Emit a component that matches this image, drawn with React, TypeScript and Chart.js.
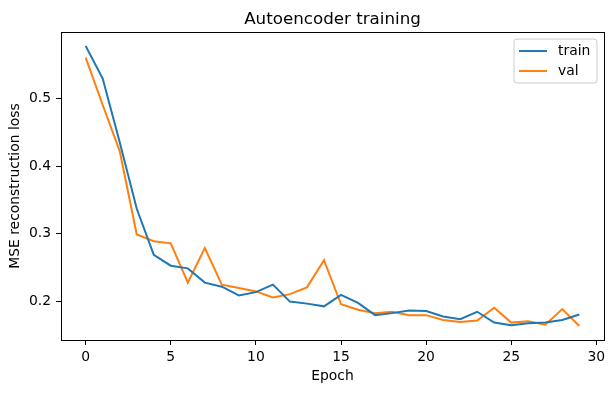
import React, { useEffect, useRef } from "react";
import { Chart, registerables } from "chart.js";

Chart.register(...registerables);

const epochs = [0, 1, 2, 3, 4, 5, 6, 7, 8, 9, 10, 11, 12, 13, 14, 15, 16, 17, 18, 19, 20, 21, 22, 23, 24, 25, 26, 27, 28, 29];
const trainLoss = [0.577, 0.529, 0.435, 0.337, 0.269, 0.253, 0.249, 0.228, 0.222, 0.209, 0.214, 0.225, 0.200, 0.197, 0.193, 0.210, 0.198, 0.180, 0.183, 0.187, 0.186, 0.178, 0.174, 0.185, 0.169, 0.165, 0.168, 0.169, 0.173, 0.181];
const valLoss = [0.560, 0.490, 0.422, 0.299, 0.289, 0.286, 0.228, 0.279, 0.225, 0.220, 0.215, 0.206, 0.211, 0.221, 0.261, 0.196, 0.188, 0.183, 0.185, 0.180, 0.180, 0.173, 0.170, 0.172, 0.191, 0.169, 0.171, 0.166, 0.189, 0.164];
const seriesNames = ["train", "val"];
const seriesColors = ["#1f77b4", "#ff7f0e"];
const titleText = "Autoencoder training";
const xTitle = "Epoch";
const yTitle = "MSE reconstruction loss";

const FONT = "'DejaVu Sans', sans-serif";
const FS = 13.9;

function margins(vals: number[]) {
  const lo = Math.min(...vals);
  const hi = Math.max(...vals);
  const r = hi - lo;
  return [lo - 0.05 * r, hi + 0.05 * r];
}

const frameAndLegend = {
  id: "frameAndLegend",
  afterDatasetsDraw(chart: any) {
    const { ctx, chartArea } = chart;
    const { left, top, right, bottom } = chartArea;
    ctx.save();
    // spines
    ctx.strokeStyle = "#000";
    ctx.lineWidth = 1;
    ctx.strokeRect(Math.round(left) + 0.5, Math.round(top) + 0.5, Math.round(right - left), Math.round(bottom - top));
    // legend
    const bw = 83;
    const bh = 44;
    const bx = right - 7 - bw;
    const by = top + 7;
    const rad = 3;
    ctx.beginPath();
    ctx.moveTo(bx + rad, by);
    ctx.lineTo(bx + bw - rad, by);
    ctx.arcTo(bx + bw, by, bx + bw, by + rad, rad);
    ctx.lineTo(bx + bw, by + bh - rad);
    ctx.arcTo(bx + bw, by + bh, bx + bw - rad, by + bh, rad);
    ctx.lineTo(bx + rad, by + bh);
    ctx.arcTo(bx, by + bh, bx, by + bh - rad, rad);
    ctx.lineTo(bx, by + rad);
    ctx.arcTo(bx, by, bx + rad, by, rad);
    ctx.closePath();
    ctx.fillStyle = "rgba(255,255,255,0.8)";
    ctx.fill();
    ctx.strokeStyle = "#cccccc";
    ctx.lineWidth = 1;
    ctx.stroke();
    ctx.font = `${FS}px ${FONT}`;
    ctx.textBaseline = "middle";
    ctx.textAlign = "left";
    seriesNames.forEach((name, i) => {
      const ly = by + 12 + i * 20;
      ctx.beginPath();
      ctx.moveTo(bx + 5, ly);
      ctx.lineTo(bx + 33, ly);
      ctx.strokeStyle = seriesColors[i];
      ctx.lineWidth = 2;
      ctx.stroke();
      ctx.fillStyle = "#000";
      ctx.fillText(name, bx + 44, ly + 0.5);
    });
    ctx.restore();
  },
};

export default function App() {
  const ref = useRef<HTMLCanvasElement | null>(null);
  useEffect(() => {
    if (!ref.current) return;
    const [xMin, xMax] = margins(epochs);
    const [yMin, yMax] = margins([...trainLoss, ...valLoss]);
    const chart = new Chart(ref.current, {
      type: "line",
      data: {
        datasets: [trainLoss, valLoss].map((vals, i) => ({
          label: seriesNames[i],
          data: epochs.map((e, k) => ({ x: e, y: vals[k] })),
          borderColor: seriesColors[i],
          backgroundColor: seriesColors[i],
          borderWidth: 2,
          pointRadius: 0,
          tension: 0,
          fill: false,
        })),
      },
      options: {
        responsive: false,
        animation: false,
        events: [],
        layout: { padding: { top: 0, right: 10, bottom: 0, left: 0 } },
        plugins: {
          legend: { display: false },
          tooltip: { enabled: false },
          title: {
            display: true,
            text: titleText,
            fullSize: false,
            color: "#000",
            font: { family: FONT, size: 16.7, weight: "normal", lineHeight: 1.2 },
            padding: { top: 9.5, bottom: 2.5 },
          },
        },
        scales: {
          x: {
            type: "linear",
            min: xMin,
            max: xMax,
            afterFit: (s: any) => {
              s.height = 53;
            },
            grid: { drawOnChartArea: false, color: "#000", tickLength: 5, tickWidth: 1 },
            border: { display: true, color: "#000", width: 1 },
            ticks: {
              stepSize: 5,
              includeBounds: false,
              color: "#000",
              padding: 4,
              maxRotation: 0,
              font: { family: FONT, size: FS },
              callback: (v: any) => String(v),
            },
            title: {
              display: true,
              text: xTitle,
              color: "#000",
              font: { family: FONT, size: FS },
              padding: { top: 0, bottom: 8.5 },
            },
          },
          y: {
            type: "linear",
            min: yMin,
            max: yMax,
            afterFit: (s: any) => {
              s.width = 61;
            },
            grid: { drawOnChartArea: false, color: "#000", tickLength: 5, tickWidth: 1 },
            border: { display: true, color: "#000", width: 1 },
            ticks: {
              stepSize: 0.1,
              includeBounds: false,
              color: "#000",
              padding: 5,
              font: { family: FONT, size: FS },
              callback: (v: any) => Number(v).toFixed(1),
            },
            title: {
              display: true,
              text: yTitle,
              color: "#000",
              font: { family: FONT, size: FS },
              padding: { top: 7.5, bottom: 0 },
            },
          },
        },
      },
      plugins: [frameAndLegend],
    });
    return () => chart.destroy();
  }, []);
  return (
    <div style={{ position: "fixed", left: 0, top: 0, width: 614, height: 393, background: "#fff" }}>
      <canvas ref={ref} width={614} height={393} style={{ display: "block" }} />
    </div>
  );
}
